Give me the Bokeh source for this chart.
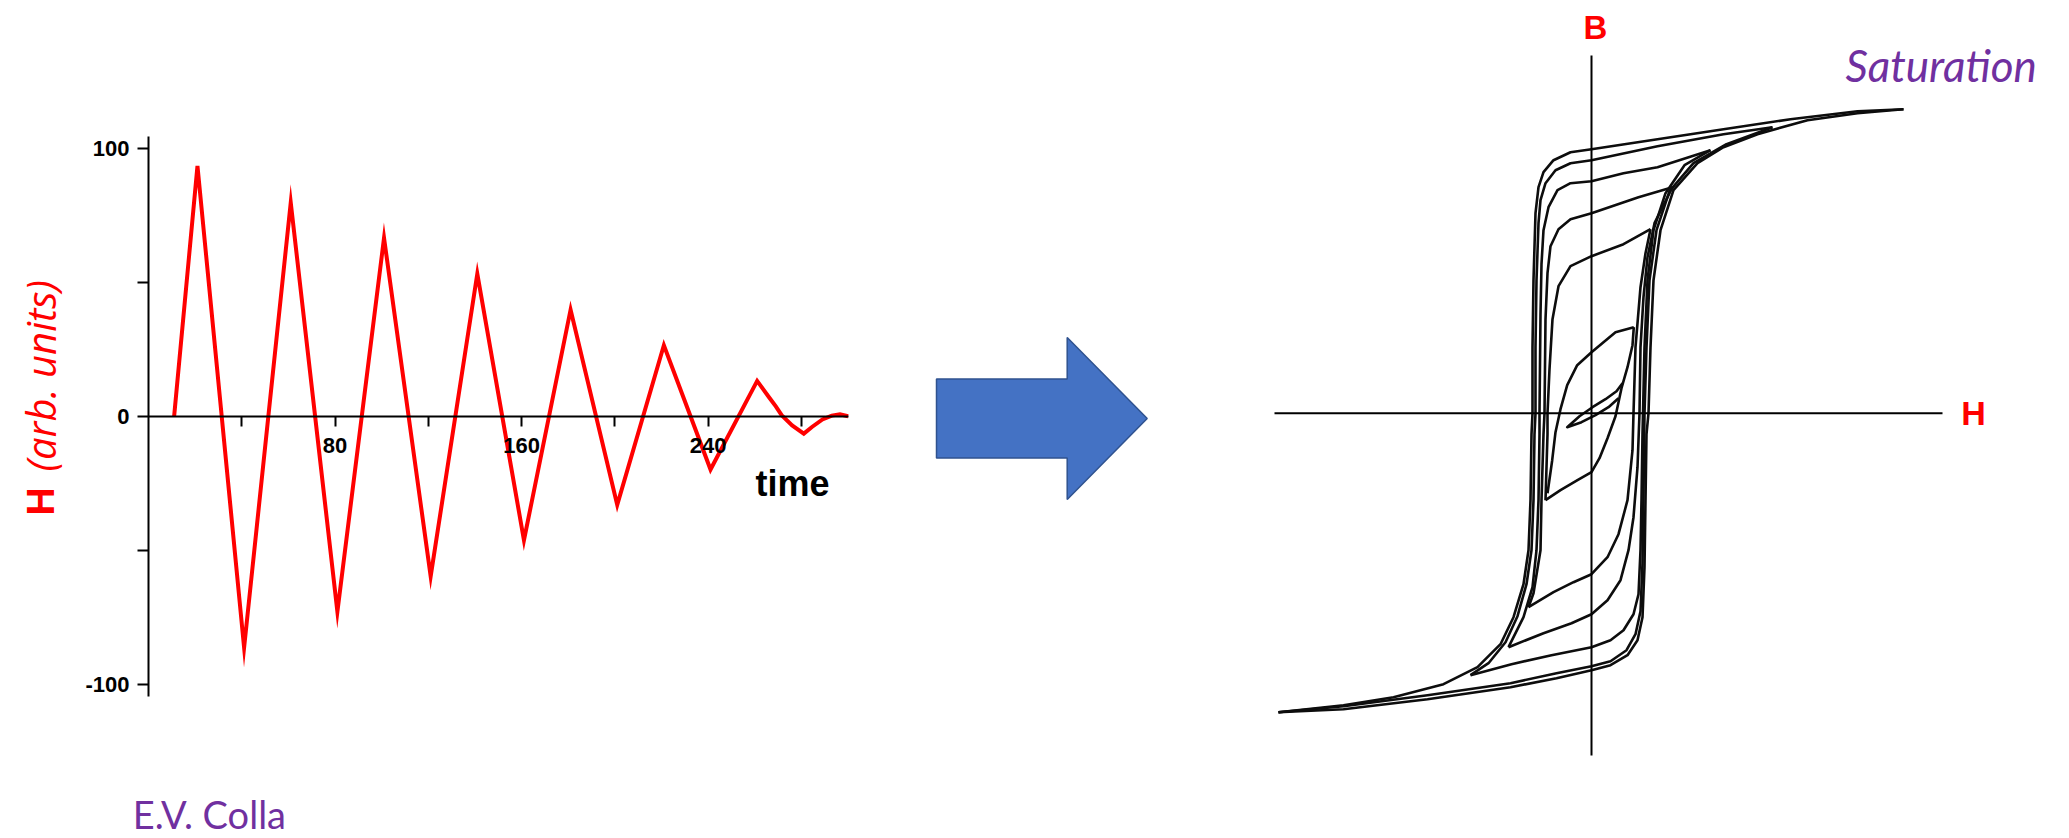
import math

from bokeh.core.properties import value
from bokeh.embed import file_html
from bokeh.layouts import row
from bokeh.models import FixedTicker, Label, LinearAxis, Range1d
from bokeh.plotting import figure
from bokeh.resources import INLINE

# ---------------------------------------------------------------------------
# Left panel: decaying alternating drive field H(t)
# ---------------------------------------------------------------------------
time_pts = [11, 21, 41, 61, 81, 101, 121, 141, 161, 181, 201, 221, 241, 261,
            266, 269, 271.5, 276, 281, 284.5, 289, 293, 296.5, 300]
field_pts = [0, 93.5, -86.4, 79.8, -73.0, 66.6, -59.8, 53.2, -46.3, 39.8, -33.1,
             26.5, -19.9, 13.2, 7.2, 3.7, 0.4, -3.4, -6.5, -4.0, -1.2, 0.25, 0.75, 0.0]

time_ticks = [40, 80, 120, 160, 200, 240, 280]
time_label_overrides = {40: "", 80: "80", 120: "", 160: "160", 200: "", 240: "240", 280: ""}
field_ticks = [-100, -50, 0, 50, 100]
field_label_overrides = {-100: "-100", -50: "", 0: "0", 50: "", 100: "100"}
time_bounds = (0, 300)
field_bounds = (-104.67, 104.48)

RED = "#FF0000"
PURPLE = "#7030A0"

left = figure(width=930, height=838, x_range=Range1d(-63.46, 335.33),
              y_range=Range1d(-157.70, 155.28), output_backend="svg", toolbar_location=None,
              x_axis_location=None, y_axis_location=None, min_border=0)
left.outline_line_color = None
left.grid.visible = False


def style_axis(ax):
    ax.minor_tick_line_color = None
    ax.major_tick_in = 0
    ax.major_tick_line_width = 2
    ax.axis_line_width = 2
    ax.major_label_text_font = "Liberation Sans"
    ax.major_label_text_font_style = "bold"
    ax.major_label_text_font_size = "22px"
    ax.major_label_text_color = "black"


yax = LinearAxis(fixed_location=0, bounds=field_bounds, ticker=FixedTicker(ticks=field_ticks),
                 major_label_overrides=field_label_overrides)
style_axis(yax)
yax.major_tick_out = 11
yax.major_label_standoff = 8
left.add_layout(yax, "left")

xax = LinearAxis(fixed_location=0, bounds=time_bounds, ticker=FixedTicker(ticks=time_ticks),
                 major_label_overrides=time_label_overrides)
style_axis(xax)
xax.major_tick_out = 10
xax.major_label_standoff = 12
left.add_layout(xax, "below")

left.line(time_pts, field_pts, line_color=RED, line_width=4, line_join="miter")

left.text(x=[260.3], y=[-25.0], text=["time"], text_align="left", text_baseline="alphabetic",
          text_font=value("Liberation Sans"), text_font_style="bold",
          text_font_size="36px", text_color="black")

left.add_layout(Label(x=-46.4, y=-37.07, text="H", angle=math.pi / 2, text_align="left",
                      text_baseline="alphabetic", text_font="Liberation Sans",
                      text_font_style="bold", text_font_size="39px", text_color=RED))
left.add_layout(Label(x=-46.4, y=-20.6, text="(arb. units)", angle=math.pi / 2,
                      text_align="left", text_baseline="alphabetic", text_font="Open Sans",
                      text_font_style="italic", text_font_size="40px", text_color=RED))
left.add_layout(Label(x=-6.7, y=-148.7, text="E.V. Colla", text_align="left",
                      text_baseline="alphabetic", text_font="Lato", text_font_size="38px",
                      text_color=PURPLE))

# ---------------------------------------------------------------------------
# Middle panel: block arrow
# ---------------------------------------------------------------------------
arrow_left, arrow_head_base, arrow_tip = 6, 136.7, 216.7
arrow_mid, shaft_half, head_half = 418.0, 39.5, 81.0

mid = figure(width=320, height=838, x_range=Range1d(0, 320), y_range=Range1d(838, 0),
             output_backend="svg", toolbar_location=None, x_axis_location=None,
             y_axis_location=None, min_border=0)
mid.outline_line_color = None
mid.grid.visible = False
arrow_x = [arrow_left, arrow_head_base, arrow_head_base, arrow_tip,
           arrow_head_base, arrow_head_base, arrow_left]
arrow_y = [arrow_mid - shaft_half, arrow_mid - shaft_half, arrow_mid - head_half, arrow_mid,
           arrow_mid + head_half, arrow_mid + shaft_half, arrow_mid + shaft_half]
mid.patch(arrow_x, arrow_y, fill_color="#4472C4", line_color="#2F528F", line_width=1.5)

# ---------------------------------------------------------------------------
# Right panel: B-H hysteresis during demagnetisation (spiralling minor loops)
# ---------------------------------------------------------------------------
asc_sat_h = [-31.3, -24.8, -16.4, -8.1, -3.5, 0, 1.9, 3.6, 4.6, 5.1, 5.3, 5.4, 5.5, 5.7,
             5.9, 6.2, 6.9, 8.2, 10.6, 13.2, 16.6, 21.6, 26.6, 31.2]
asc_sat_b = [-29.9, -29.6, -28.6, -27.4, -26.5, -25.7, -25.2, -24.2, -22.7, -20.4, -15.4,
             -8.7, -2.1, 0, 6.6, 13.3, 18.3, 22.3, 25.0, 26.6, 27.9, 29.3, 30.0, 30.4]

desc_sat_h = [31.2, 26.6, 19.9, 13.2, 6.6, 0, -2.1, -3.8, -4.8, -5.3, -5.6, -5.8, -5.9, -5.9,
              -6.0, -6.1, -6.3, -6.8, -7.8, -9.1, -11.4, -14.8, -19.8, -24.8, -31.3]
desc_sat_b = [30.4, 30.2, 29.4, 28.4, 27.4, 26.4, 26.1, 25.3, 24.1, 22.6, 20.0, 13.3, 6.6, 0,
              -2.1, -8.7, -13.7, -17.1, -20.4, -23.1, -25.4, -27.1, -28.4, -29.2, -29.9]

asc_1_h = [-31.3, -24.8, -16.4, -8.1, -3.5, 0, 1.9, 3.5, 4.4, 4.9, 5.1, 5.2, 5.3, 5.5, 5.8,
           6.5, 7.8, 10.2, 13.5, 18.1]
asc_1_b = [-29.9, -29.3, -28.2, -27.0, -26.0, -25.3, -24.8, -23.7, -22.1, -19.8, -15.0, -8.0,
           0, 6.6, 13.3, 18.3, 22.2, 25.0, 26.9, 28.6]

desc_1_h = [18.1, 13.2, 6.6, 0, -2.1, -3.6, -4.6, -5.1, -5.3, -5.5, -5.6, -5.6, -5.7, -5.8,
            -6.0, -6.5, -7.4, -8.6, -10.3, -12.1]
desc_1_b = [28.6, 27.9, 26.7, 25.3, 25.0, 24.3, 23.0, 21.3, 19.0, 13.3, 6.6, 0, -2.1, -8.7,
            -13.7, -17.1, -20.3, -22.9, -25.0, -26.2]

asc_2_h = [-12.1, -8.0, -4.0, 0, 1.9, 3.2, 4.2, 4.7, 4.9, 5.0, 5.1, 5.15, 5.3, 5.6, 6.2,
           7.4, 9.3, 11.9]
asc_2_b = [-26.2, -25.1, -24.2, -23.4, -22.7, -21.7, -20.1, -18.1, -13.7, -8.7, -2.1, 0,
           6.6, 13.3, 18.3, 22.0, 24.8, 26.3]

desc_2_h = [11.9, 6.6, 3.2, 0, -2.1, -3.4, -4.3, -4.8, -5.0, -5.1, -5.2, -5.2, -5.3, -5.5,
            -5.9, -6.8, -8.3]
desc_2_b = [26.3, 24.6, 24.0, 23.2, 23.0, 22.3, 20.6, 18.3, 14.9, 9.9, 0, -2.1, -8.7,
            -13.7, -17.4, -20.4, -23.4]

asc_3_h = [-8.3, -4.8, -2.0, 0, 1.6, 2.9, 3.7, 4.2, 4.6, 4.8, 4.9, 5.2, 5.6, 6.3, 8.1]
asc_3_b = [-23.4, -22.0, -21.0, -20.1, -18.7, -16.7, -13.7, -10.4, -5.4, 0, 6.6, 11.6,
           15.6, 19.0, 22.6]

desc_3_h = [8.1, 4.7, 0, -2.1, -3.3, -4.1, -4.4, -4.6, -4.7, -4.8, -5.0, -5.1, -5.8, -6.3]
desc_3_b = [22.6, 21.6, 20.0, 19.4, 18.4, 16.7, 14.0, 9.4, 0, -2.1, -8.7, -13.7, -18.0, -19.4]

asc_4_h = [-6.3, -3.8, -1.8, 0, 1.6, 2.7, 3.6, 4.1, 4.2, 4.4, 4.9, 5.4, 5.9]
asc_4_b = [-19.4, -17.9, -16.9, -16.1, -14.4, -12.1, -8.7, -3.7, 0, 6.6, 12.6, 16.0, 18.4]

desc_4_h = [5.9, 3.2, 0, -2.1, -3.3, -3.9, -4.2, -4.4, -4.4, -4.6]
desc_4_b = [18.4, 16.9, 15.7, 14.7, 12.7, 9.4, 4.4, 0, -2.1, -8.7]

asc_5_h = [-4.6, -3.1, -1.4, 0, 0.8, 1.6, 2.4, 3.0, 3.6, 4.1, 4.23]
asc_5_b = [-8.7, -7.7, -6.7, -5.9, -4.5, -2.5, -0.3, 2.5, 4.6, 6.8, 8.6]

desc_5_h = [4.23, 2.4, 0, -1.43, -2.43, -3.1, -3.6, -3.93, -4.2, -4.4]
desc_5_b = [8.6, 8.1, 6.1, 4.8, 2.8, 0.4, -1.9, -4.7, -6.6, -8.0]

inner_h = [3.1, 2.5, 1.4, 0.1, -1.2, -2.43, -1.0, 0.4, 1.7, 2.7]
inner_b = [3.0, 2.2, 1.4, 0.6, -0.3, -1.4, -0.9, -0.2, 0.6, 1.5]

branches_h = [asc_sat_h, desc_sat_h, asc_1_h, desc_1_h, asc_2_h, desc_2_h, asc_3_h,
              desc_3_h, asc_4_h, desc_4_h, asc_5_h, desc_5_h, inner_h]
branches_b = [asc_sat_b, desc_sat_b, asc_1_b, desc_1_b, asc_2_b, desc_2_b, asc_3_b,
              desc_3_b, asc_4_b, desc_4_b, asc_5_b, desc_5_b, inner_b]

h_axis_span = [-31.7, 35.1]
b_axis_span = [-34.23, 35.77]

right = figure(width=819, height=838, x_range=Range1d(-34.1, 47.8),
               y_range=Range1d(-42.53, 41.27), output_backend="svg", toolbar_location=None,
               x_axis_location=None, y_axis_location=None, min_border=0)
right.outline_line_color = None
right.grid.visible = False

right.multi_line(branches_h, branches_b, line_color="#0d0d0d", line_width=2.6,
                 line_join="round")
right.segment(x0=[h_axis_span[0], 0], y0=[0, b_axis_span[0]],
              x1=[h_axis_span[1], 0], y1=[0, b_axis_span[1]],
              line_color="black", line_width=2)

right.add_layout(Label(x=0.4, y=38.57, text="B", text_align="center",
                       text_baseline="alphabetic", text_font="Liberation Sans",
                       text_font_style="bold", text_font_size="33px", text_color=RED))
right.add_layout(Label(x=38.2, y=0.0, text="H", text_align="center",
                       text_baseline="alphabetic", text_font="Liberation Sans",
                       text_font_style="bold", text_font_size="34px", text_color=RED))
right.add_layout(Label(x=25.4, y=34.8, text="Saturation", text_align="left",
                       text_baseline="alphabetic", text_font="Lato",
                       text_font_style="italic", text_font_size="44px", text_color=PURPLE))

page = row(left, mid, right)

with open("out.html", "w") as fh:
    fh.write(file_html(page, INLINE))
